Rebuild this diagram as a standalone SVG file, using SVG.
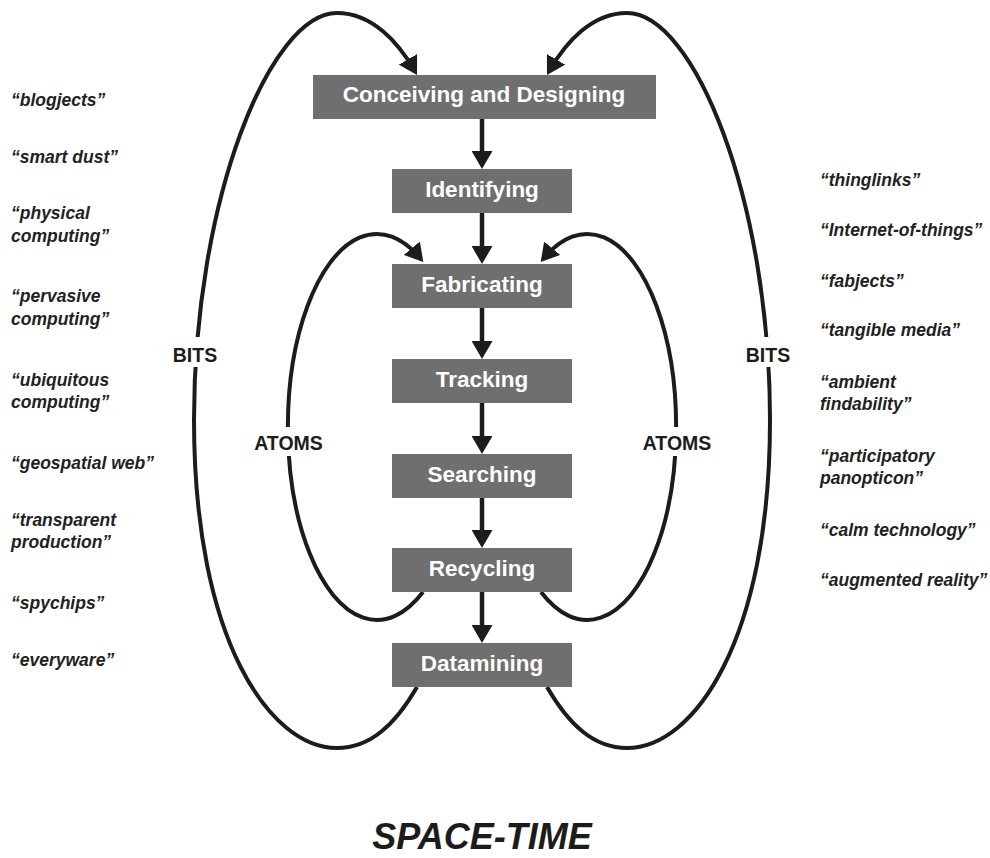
<svg xmlns="http://www.w3.org/2000/svg" width="990" height="858" viewBox="0 0 990 858">
  <style>
    .box { fill: #6f6f6f; }
    .node-text { font-family: "Liberation Sans", Arial, sans-serif; font-weight: bold; font-size: 22.5px; fill: #ffffff; text-anchor: middle; }
    .flow { fill: none; stroke: #1c1c1c; stroke-width: 4.5; }
    .loop { fill: none; stroke: #1c1c1c; stroke-width: 4; }
    .loop-label { font-family: "Liberation Sans", Arial, sans-serif; font-weight: bold; font-size: 19.5px; fill: #1c1c1c; text-anchor: middle; }
    .term { font-family: "Liberation Sans", Arial, sans-serif; font-weight: bold; font-style: italic; font-size: 17.5px; fill: #222222; }
    .title { font-family: "Liberation Sans", Arial, sans-serif; font-weight: bold; font-style: italic; font-size: 36px; fill: #1c1c1c; text-anchor: middle; }
  </style>
  <defs>
    <marker id="head" markerUnits="userSpaceOnUse" viewBox="0 0 18 21" markerWidth="18" markerHeight="21" refX="13" refY="10.5" orient="auto">
      <path d="M0,0 L18,10.5 L0,21 z" fill="#1c1c1c"/>
    </marker>
  </defs>

  <rect width="990" height="858" fill="#ffffff"/>

  <!-- connectors -->
  <g id="connectors">
    <!-- main sequence -->
    <path class="flow" d="M482 119 V164" marker-end="url(#head)"/>
    <path class="flow" d="M482 213 V259" marker-end="url(#head)"/>
    <path class="flow" d="M482 308 V354" marker-end="url(#head)"/>
    <path class="flow" d="M482 403 V449" marker-end="url(#head)"/>
    <path class="flow" d="M482 498 V543" marker-end="url(#head)"/>
    <path class="flow" d="M482 592 V638" marker-end="url(#head)"/>

    <!-- BITS loops: Datamining back to Conceiving and Designing -->
    <path class="loop" d="M417 687 C395 725 370 748 337 748 C270 748 194 640 194 420 C194 200 270 13 337 13 C372 13 398 42 414.5 70.6" marker-end="url(#head)"/>
    <path class="loop" d="M547 687 C569 725 594 748 627 748 C694 748 770 640 770 420 C770 200 694 13 627 13 C592 13 566 42 549.5 70.6" marker-end="url(#head)"/>

    <!-- ATOMS loops: Recycling back to Fabricating -->
    <path class="loop" d="M423 592 A89 193 0 1 1 420.1 258.2" marker-end="url(#head)"/>
    <path class="loop" d="M541 592 A89 193 0 1 0 543.9 258.2" marker-end="url(#head)"/>

    <!-- loop labels sit in a gap of the line -->
    <rect x="170" y="337" width="50" height="30" fill="#ffffff"/>
    <text class="loop-label" x="195" y="362">BITS</text>
    <rect x="744" y="337" width="50" height="30" fill="#ffffff"/>
    <text class="loop-label" x="768" y="362">BITS</text>
    <rect x="250" y="427" width="77" height="29" fill="#ffffff"/>
    <text class="loop-label" x="288.5" y="450">ATOMS</text>
    <rect x="638" y="427" width="77" height="29" fill="#ffffff"/>
    <text class="loop-label" x="677" y="450">ATOMS</text>
  </g>

  <!-- process steps -->
  <g id="conceiving">
    <rect class="box" x="313" y="75" width="343" height="44"/>
    <text class="node-text" x="484" y="102">Conceiving and Designing</text>
  </g>
  <g id="identifying">
    <rect class="box" x="392" y="169" width="180" height="44"/>
    <text class="node-text" x="482" y="196.5">Identifying</text>
  </g>
  <g id="fabricating">
    <rect class="box" x="392" y="264" width="180" height="44"/>
    <text class="node-text" x="482" y="291.5">Fabricating</text>
  </g>
  <g id="tracking">
    <rect class="box" x="392" y="359" width="180" height="44"/>
    <text class="node-text" x="482" y="386.5">Tracking</text>
  </g>
  <g id="searching">
    <rect class="box" x="392" y="454" width="180" height="44"/>
    <text class="node-text" x="482" y="481.5">Searching</text>
  </g>
  <g id="recycling">
    <rect class="box" x="392" y="548" width="180" height="44"/>
    <text class="node-text" x="482" y="575.5">Recycling</text>
  </g>
  <g id="datamining">
    <rect class="box" x="392" y="643" width="180" height="44"/>
    <text class="node-text" x="482" y="670.5">Datamining</text>
  </g>

  <!-- terms, left column -->
  <g id="terms-left">
    <text class="term" x="11" y="106">“blogjects”</text>
    <text class="term" x="11" y="163">“smart dust”</text>
    <text class="term" x="11" y="219">“physical</text>
    <text class="term" x="11" y="242">computing”</text>
    <text class="term" x="11" y="302">“pervasive</text>
    <text class="term" x="11" y="325">computing”</text>
    <text class="term" x="11" y="386">“ubiquitous</text>
    <text class="term" x="11" y="408">computing”</text>
    <text class="term" x="11" y="469">“geospatial web”</text>
    <text class="term" x="11" y="526">“transparent</text>
    <text class="term" x="11" y="548">production”</text>
    <text class="term" x="11" y="609">“spychips”</text>
    <text class="term" x="11" y="666">“everyware”</text>
  </g>

  <!-- terms, right column -->
  <g id="terms-right">
    <text class="term" x="820" y="186">“thinglinks”</text>
    <text class="term" x="820" y="236">“Internet-of-things”</text>
    <text class="term" x="820" y="287">“fabjects”</text>
    <text class="term" x="820" y="336">“tangible media”</text>
    <text class="term" x="820" y="388">“ambient</text>
    <text class="term" x="820" y="410">findability”</text>
    <text class="term" x="820" y="462">“participatory</text>
    <text class="term" x="820" y="484">panopticon”</text>
    <text class="term" x="820" y="536">“calm technology”</text>
    <text class="term" x="820" y="586">“augmented reality”</text>
  </g>

  <text class="title" x="482" y="849">SPACE-TIME</text>
</svg>
